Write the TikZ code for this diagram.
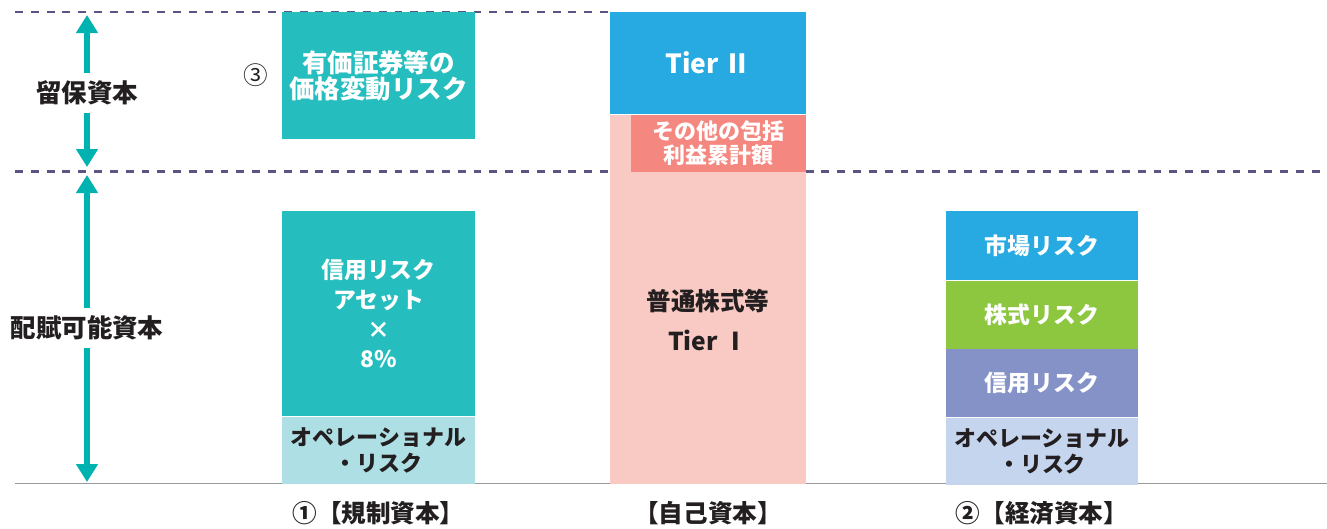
\documentclass[tikz,border=0pt]{standalone}
\usepackage{fontspec}
\setmainfont{Noto Sans CJK JP}
\usetikzlibrary{arrows.meta,positioning}
\definecolor{riskteal}{HTML}{26BDBE}
\definecolor{oplight}{HTML}{AEDFE4}
\definecolor{tierblue}{HTML}{27AAE1}
\definecolor{ownpink}{HTML}{F9C9C3}
\definecolor{ocisalmon}{HTML}{F4877F}
\definecolor{stockgreen}{HTML}{8DC63F}
\definecolor{creditpurple}{HTML}{8592C7}
\definecolor{opblue}{HTML}{C6D5EE}
\definecolor{arrowteal}{HTML}{00B2B0}
\definecolor{guideline}{HTML}{5A5585}
\definecolor{darktext}{HTML}{231F20}

\begin{document}
\begin{tikzpicture}[x=0.02cm,y=-0.02cm,
    boxA/.style={minimum width=3.86cm, inner sep=0pt, align=center, text=white,
      font=\fontsize{13}{17}\selectfont\bfseries},
    boxB/.style={minimum width=3.92cm, inner sep=0pt, align=center, text=white,
      font=\fontsize{13}{17}\selectfont\bfseries},
    boxC/.style={minimum width=3.84cm, inner sep=0pt, align=center, text=white,
      font=\fontsize{13}{17}\selectfont\bfseries},
    optext/.style={text=darktext, font=\fontsize{12.5}{15}\selectfont\bfseries},
    sidelabel/.style={text=darktext, inner sep=4pt, font=\fontsize{14.5}{17}\selectfont\bfseries},
    colname/.style={text=darktext, font=\fontsize{14}{17}\selectfont\bfseries},
    spanarrow/.style={draw=arrowteal, line width=3.4pt,
      -{Triangle[length=0.36cm,width=0.42cm]}},
    dashline/.style={draw=guideline, line width=1.7pt, dash pattern=on 4.5pt off 4.5pt}]
  \useasboundingbox (0,0) rectangle (1327,528);

  % guide lines
  \draw[dashline] (15,12) -- (610,12);
  \draw[dashline] (15,171) -- (1327,171);
  \draw[draw=black!40, line width=1.1pt] (15,483.5) -- (1327,483.5);

  % side labels and arrows
  \node[sidelabel] (retained) at (87,93) {留保資本};
  \coordinate (retainedtop) at (87,15);
  \coordinate (retainedbot) at (87,167);
  \draw[spanarrow] (retained.north) -- (retainedtop);
  \draw[spanarrow] (retained.south) -- (retainedbot);
  \node[sidelabel] (allocable) at (87,328) {配賦可能資本};
  \coordinate (allocabletop) at (87,175);
  \coordinate (allocablebot) at (87,482);
  \draw[spanarrow] (allocable.north) -- (allocabletop);
  \draw[spanarrow] (allocable.south) -- (allocablebot);

  % (1) regulatory capital
  \node[boxA, fill=riskteal, minimum height=2.54cm, font=\fontsize{14.5}{15}\selectfont\bfseries]
    (secrisk) at (378.5,75.5) {有価証券等の\\価格変動リスク};
  \node[text=darktext, font=\fontsize{14}{17}\selectfont, left=4pt of secrisk] (mark3) {③};
  \node[boxA, fill=riskteal, minimum height=4.1cm] (rwa) at (378.5,313.5)
    {信用リスク\\アセット\\×\\8\%};
  \node[boxA, fill=oplight, minimum height=1.34cm, optext, below=0pt of rwa] (regop)
    {オペレーショナル\\・リスク};
  \node[colname] (regname) at (378.5,513) {①【規制資本】};

  % own capital
  \node[boxB, fill=tierblue, minimum height=2.04cm, font=\fontsize{15}{17}\selectfont\bfseries]
    (tier2) at (708,63) {Tier Ⅱ};
  \node[boxB, fill=ownpink, minimum height=7.38cm, below=0pt of tier2] (common) {};
  \node[fill=ocisalmon, minimum width=3.5cm, minimum height=1.14cm, inner sep=0pt,
    align=center, text=white, font=\fontsize{12.5}{14}\selectfont\bfseries,
    anchor=north east] (oci) at (tier2.south east) {その他の包括\\利益累計額};
  \node[align=center, text=darktext, font=\fontsize{14}{23}\selectfont\bfseries] (tier1) at (708,320)
    {普通株式等\\Tier Ⅰ};
  \node[colname] (ownname) at (708,513) {【自己資本】};

  % (2) economic capital
  \node[boxC, fill=tierblue, minimum height=1.38cm] (market) at (1042,245.5) {市場リスク};
  \node[boxC, fill=stockgreen, minimum height=1.36cm, below=0pt of market] (stock) {株式リスク};
  \node[boxC, fill=creditpurple, minimum height=1.36cm, below=0pt of stock] (credit) {信用リスク};
  \node[boxC, fill=opblue, minimum height=1.34cm, optext, below=0pt of credit] (ecoop)
    {オペレーショナル\\・リスク};
  \node[colname] (econame) at (1042,513) {②【経済資本】};
\end{tikzpicture}
\end{document}
